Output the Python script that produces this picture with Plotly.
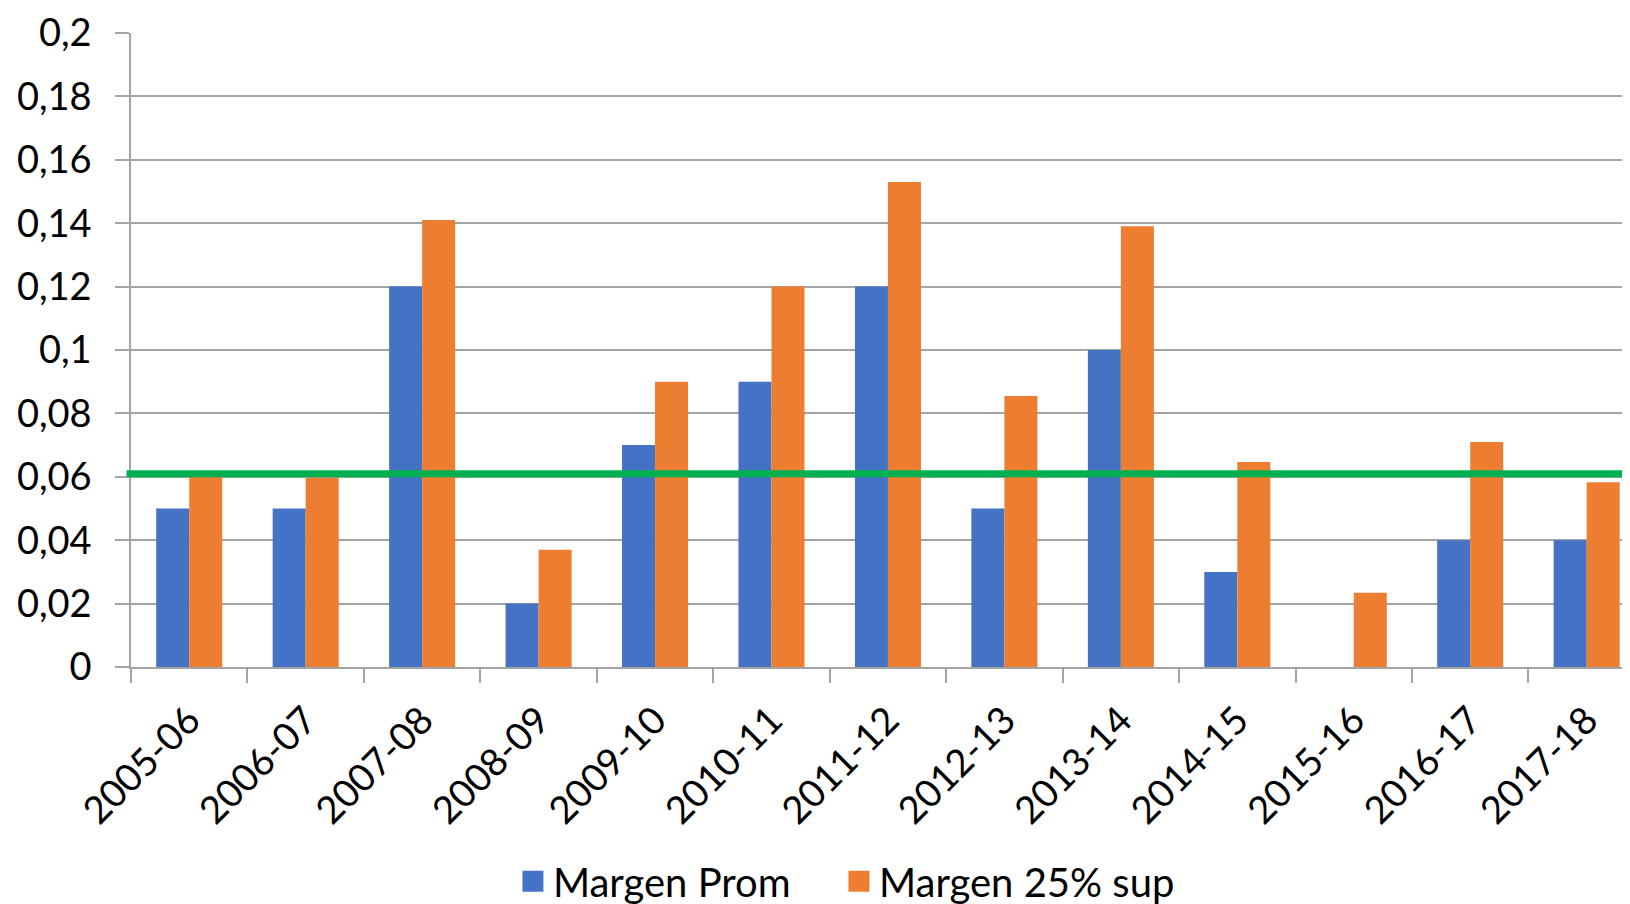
import plotly.graph_objects as go

CATEGORIES = ["2005-06", "2006-07", "2007-08", "2008-09", "2009-10", "2010-11", "2011-12",
              "2012-13", "2013-14", "2014-15", "2015-16", "2016-17", "2017-18"]
MARGEN_PROM = [0.05, 0.05, 0.12, 0.02, 0.07, 0.09, 0.12, 0.05, 0.10, 0.03, 0.0, 0.04, 0.04]
MARGEN_25_SUP = [0.060, 0.0597, 0.141, 0.037, 0.090, 0.120, 0.153, 0.0855, 0.139, 0.0647, 0.0234, 0.071, 0.0583]
THRESHOLD = 0.061
SERIES_NAMES = ["Margen Prom", "Margen 25% sup"]
Y_TICKS = [0, 0.02, 0.04, 0.06, 0.08, 0.10, 0.12, 0.14, 0.16, 0.18, 0.20]
Y_TICK_LABELS = ["0", "0,02", "0,04", "0,06", "0,08", "0,1", "0,12", "0,14", "0,16", "0,18", "0,2"]

BLUE = "#4472C4"
ORANGE = "#ED7D31"
GREEN = "#00B050"
GRID = "#A3A3A3"
FONT = "Lato"

fig = go.Figure()
fig.add_trace(go.Bar(x=CATEGORIES, y=MARGEN_PROM, name=SERIES_NAMES[0],
                     marker=dict(color=BLUE, line=dict(width=0)), showlegend=False))
fig.add_trace(go.Bar(x=CATEGORIES, y=MARGEN_25_SUP, name=SERIES_NAMES[1],
                     marker=dict(color=ORANGE, line=dict(width=0)), showlegend=False))
# legend entries (one legend per series so each can be positioned like the original)
for name, col, lg in zip(SERIES_NAMES, [BLUE, ORANGE], ["legend", "legend2"]):
    fig.add_trace(go.Scatter(x=[None], y=[None], mode="markers", name=name, legend=lg,
                             marker=dict(symbol="square", size=16, color=col,
                                         line=dict(width=5, color=col))))

fig.add_shape(type="line", xref="paper", yref="y", x0=-0.003, x1=1, y0=THRESHOLD, y1=THRESHOLD,
              line=dict(color=GREEN, width=7), layer="above")

legend_common = dict(orientation="h", xanchor="left", yanchor="middle",
                     font=dict(family=FONT, size=40, color="black"), bgcolor="rgba(0,0,0,0)")

fig.update_layout(
    width=1630, height=904,
    margin=dict(l=123, r=8, t=25, b=245, pad=0, autoexpand=False),
    paper_bgcolor="white", plot_bgcolor="white",
    barmode="group", bargap=0.433, bargroupgap=0,
    font=dict(family=FONT, size=38, color="black"),
    showlegend=True,
    legend=dict(x=0.2548, y=-0.338, **legend_common),
    legend2=dict(x=0.4723, y=-0.338, **legend_common),
    xaxis=dict(type="category", range=[-0.5, 12.372], tickson="boundaries",
               ticks="outside", ticklen=14, tickcolor=GRID, tickwidth=1.5,
               showline=True, linecolor=GRID, linewidth=1.5, showgrid=False,
               tickangle=-45, tickfont=dict(family=FONT, size=38, color="black"),
               ticklabelstandoff=14, zeroline=False, automargin=False,
               ticklabeloverflow="allow"),
    yaxis=dict(range=[0, 0.2], tickvals=Y_TICKS, ticktext=Y_TICK_LABELS,
               ticks="outside", ticklen=14, tickcolor=GRID, tickwidth=1.5,
               showline=True, linecolor=GRID, linewidth=1.5,
               showgrid=True, gridcolor=GRID, gridwidth=1.5, zeroline=False,
               tickfont=dict(family=FONT, size=38, color="black"),
               ticklabelstandoff=16, automargin=False, ticklabeloverflow="allow"),
)

fig.write_html("out.html")
